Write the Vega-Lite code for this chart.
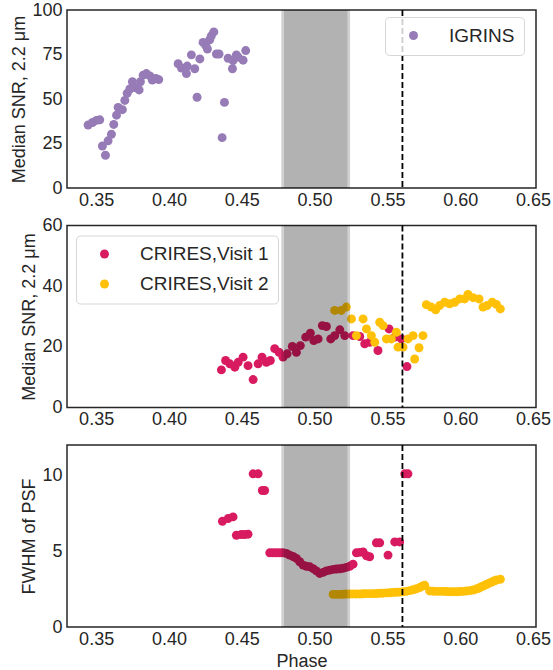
{
  "$schema": "https://vega.github.io/schema/vega-lite/v6.json",
  "background": "white",
  "padding": {"top": 0, "left": 10, "right": 5, "bottom": 0},
  "bounds": "flush",
  "spacing": 37.5,
  "config": {
    "font": "Liberation Sans",
    "view": {"stroke": "#262626", "strokeWidth": 1.5},
    "axis": {"grid": false, "ticks": false, "domain": false, "labelFontSize": 18, "titleFontSize": 18, "labelColor": "#262626", "titleColor": "#262626", "titleFontWeight": "normal", "titlePadding": 3},
    "axisX": {"labelPadding": 3},
    "axisY": {"labelPadding": 5},
    "legend": {"labelFontSize": 19, "labelColor": "#262626", "symbolSize": 80, "symbolType": "circle", "symbolOpacity": 1, "strokeColor": "#d6d6d6", "fillColor": "rgba(255,255,255,0.8)", "cornerRadius": 4, "padding": 9, "symbolOffset": 10, "labelOffset": 26, "rowPadding": 10}
  },
  "datasets": {
    "span": [{"start": 0.479, "end": 0.5225}],
    "ingress": [{"phase": 0.5603}],
    "igrins": [
      {"phase": 0.3445, "snr": 35.4}, {"phase": 0.3475, "snr": 36.8}, {"phase": 0.3502, "snr": 38.0}, {"phase": 0.3525, "snr": 38.3},
      {"phase": 0.3543, "snr": 23.6}, {"phase": 0.3564, "snr": 18.4}, {"phase": 0.3582, "snr": 26.5}, {"phase": 0.3605, "snr": 30.2},
      {"phase": 0.3621, "snr": 35.7}, {"phase": 0.364, "snr": 40.9}, {"phase": 0.3651, "snr": 45.3}, {"phase": 0.368, "snr": 44.0},
      {"phase": 0.3697, "snr": 49.2}, {"phase": 0.3713, "snr": 53.2}, {"phase": 0.3731, "snr": 55.6}, {"phase": 0.3749, "snr": 59.7},
      {"phase": 0.3766, "snr": 56.4}, {"phase": 0.3795, "snr": 55.1}, {"phase": 0.3804, "snr": 59.7}, {"phase": 0.3823, "snr": 63.4},
      {"phase": 0.3845, "snr": 64.3}, {"phase": 0.3869, "snr": 63.0}, {"phase": 0.3886, "snr": 60.6}, {"phase": 0.391, "snr": 61.5},
      {"phase": 0.393, "snr": 60.9}, {"phase": 0.4063, "snr": 69.8}, {"phase": 0.4086, "snr": 67.4}, {"phase": 0.412, "snr": 64.3},
      {"phase": 0.4125, "snr": 68.5}, {"phase": 0.4154, "snr": 74.8}, {"phase": 0.4177, "snr": 67.0}, {"phase": 0.4193, "snr": 51.0},
      {"phase": 0.4212, "snr": 72.5}, {"phase": 0.4234, "snr": 81.8}, {"phase": 0.4253, "snr": 80.0}, {"phase": 0.4264, "snr": 78.1},
      {"phase": 0.428, "snr": 83.3}, {"phase": 0.4291, "snr": 85.5}, {"phase": 0.4308, "snr": 87.7}, {"phase": 0.4326, "snr": 75.3},
      {"phase": 0.4344, "snr": 75.3}, {"phase": 0.4365, "snr": 28.3}, {"phase": 0.4381, "snr": 48.1}, {"phase": 0.4406, "snr": 72.9},
      {"phase": 0.4436, "snr": 67.0}, {"phase": 0.444, "snr": 71.6}, {"phase": 0.4463, "snr": 74.8}, {"phase": 0.4475, "snr": 73.5},
      {"phase": 0.4509, "snr": 71.8}, {"phase": 0.4527, "snr": 77.2}
    ],
    "crires_snr": [
      {"visit": "CRIRES,Visit 1", "phase": 0.436, "snr": 12.4}, {"visit": "CRIRES,Visit 1", "phase": 0.4389, "snr": 15.5},
      {"visit": "CRIRES,Visit 1", "phase": 0.4418, "snr": 14.4}, {"visit": "CRIRES,Visit 1", "phase": 0.4452, "snr": 13.3},
      {"visit": "CRIRES,Visit 1", "phase": 0.4475, "snr": 14.9}, {"visit": "CRIRES,Visit 1", "phase": 0.4509, "snr": 16.6},
      {"visit": "CRIRES,Visit 1", "phase": 0.4543, "snr": 13.8}, {"visit": "CRIRES,Visit 1", "phase": 0.4578, "snr": 9.2},
      {"visit": "CRIRES,Visit 1", "phase": 0.4612, "snr": 14.4}, {"visit": "CRIRES,Visit 1", "phase": 0.4639, "snr": 16.6},
      {"visit": "CRIRES,Visit 1", "phase": 0.4669, "snr": 14.9}, {"visit": "CRIRES,Visit 1", "phase": 0.4696, "snr": 15.5},
      {"visit": "CRIRES,Visit 1", "phase": 0.4726, "snr": 19.4}, {"visit": "CRIRES,Visit 1", "phase": 0.4756, "snr": 18.2},
      {"visit": "CRIRES,Visit 1", "phase": 0.4783, "snr": 16.6}, {"visit": "CRIRES,Visit 1", "phase": 0.4811, "snr": 17.7},
      {"visit": "CRIRES,Visit 1", "phase": 0.4847, "snr": 20.1}, {"visit": "CRIRES,Visit 1", "phase": 0.4875, "snr": 18.2},
      {"visit": "CRIRES,Visit 1", "phase": 0.4902, "snr": 20.4}, {"visit": "CRIRES,Visit 1", "phase": 0.4939, "snr": 23.2},
      {"visit": "CRIRES,Visit 1", "phase": 0.4971, "snr": 24.5}, {"visit": "CRIRES,Visit 1", "phase": 0.4994, "snr": 22.1},
      {"visit": "CRIRES,Visit 1", "phase": 0.5024, "snr": 22.6}, {"visit": "CRIRES,Visit 1", "phase": 0.5053, "snr": 27.0},
      {"visit": "CRIRES,Visit 1", "phase": 0.5081, "snr": 26.7}, {"visit": "CRIRES,Visit 1", "phase": 0.5111, "snr": 22.6},
      {"visit": "CRIRES,Visit 1", "phase": 0.5138, "snr": 23.7}, {"visit": "CRIRES,Visit 1", "phase": 0.5173, "snr": 25.6},
      {"visit": "CRIRES,Visit 1", "phase": 0.5207, "snr": 23.7}, {"visit": "CRIRES,Visit 1", "phase": 0.5264, "snr": 23.7},
      {"visit": "CRIRES,Visit 1", "phase": 0.531, "snr": 23.4}, {"visit": "CRIRES,Visit 1", "phase": 0.5344, "snr": 21.0},
      {"visit": "CRIRES,Visit 1", "phase": 0.5378, "snr": 21.5}, {"visit": "CRIRES,Visit 1", "phase": 0.5435, "snr": 18.8},
      {"visit": "CRIRES,Visit 1", "phase": 0.5511, "snr": 25.9}, {"visit": "CRIRES,Visit 1", "phase": 0.555, "snr": 23.2},
      {"visit": "CRIRES,Visit 1", "phase": 0.5596, "snr": 22.6}, {"visit": "CRIRES,Visit 1", "phase": 0.5634, "snr": 13.5},
      {"visit": "CRIRES,Visit 2", "phase": 0.5138, "snr": 32.0}, {"visit": "CRIRES,Visit 2", "phase": 0.5183, "snr": 32.0},
      {"visit": "CRIRES,Visit 2", "phase": 0.5218, "snr": 33.1}, {"visit": "CRIRES,Visit 2", "phase": 0.5253, "snr": 29.2},
      {"visit": "CRIRES,Visit 2", "phase": 0.5287, "snr": 23.7}, {"visit": "CRIRES,Visit 2", "phase": 0.5333, "snr": 29.2},
      {"visit": "CRIRES,Visit 2", "phase": 0.5356, "snr": 25.9}, {"visit": "CRIRES,Visit 2", "phase": 0.539, "snr": 23.7},
      {"visit": "CRIRES,Visit 2", "phase": 0.5413, "snr": 21.5}, {"visit": "CRIRES,Visit 2", "phase": 0.5447, "snr": 28.1},
      {"visit": "CRIRES,Visit 2", "phase": 0.547, "snr": 27.0}, {"visit": "CRIRES,Visit 2", "phase": 0.5493, "snr": 22.6},
      {"visit": "CRIRES,Visit 2", "phase": 0.5527, "snr": 22.6}, {"visit": "CRIRES,Visit 2", "phase": 0.5561, "snr": 24.8},
      {"visit": "CRIRES,Visit 2", "phase": 0.5573, "snr": 19.9}, {"visit": "CRIRES,Visit 2", "phase": 0.5607, "snr": 19.9},
      {"visit": "CRIRES,Visit 2", "phase": 0.5641, "snr": 22.6}, {"visit": "CRIRES,Visit 2", "phase": 0.5676, "snr": 23.7},
      {"visit": "CRIRES,Visit 2", "phase": 0.5687, "snr": 16.0}, {"visit": "CRIRES,Visit 2", "phase": 0.5717, "snr": 19.7},
      {"visit": "CRIRES,Visit 2", "phase": 0.5744, "snr": 23.7}, {"visit": "CRIRES,Visit 2", "phase": 0.5767, "snr": 33.9},
      {"visit": "CRIRES,Visit 2", "phase": 0.5801, "snr": 33.1}, {"visit": "CRIRES,Visit 2", "phase": 0.5831, "snr": 32.2},
      {"visit": "CRIRES,Visit 2", "phase": 0.5858, "snr": 33.6}, {"visit": "CRIRES,Visit 2", "phase": 0.5893, "snr": 34.7},
      {"visit": "CRIRES,Visit 2", "phase": 0.5927, "snr": 34.2}, {"visit": "CRIRES,Visit 2", "phase": 0.5962, "snr": 34.7},
      {"visit": "CRIRES,Visit 2", "phase": 0.5996, "snr": 35.8}, {"visit": "CRIRES,Visit 2", "phase": 0.603, "snr": 35.8},
      {"visit": "CRIRES,Visit 2", "phase": 0.6053, "snr": 37.3}, {"visit": "CRIRES,Visit 2", "phase": 0.6088, "snr": 36.2},
      {"visit": "CRIRES,Visit 2", "phase": 0.6129, "snr": 35.8}, {"visit": "CRIRES,Visit 2", "phase": 0.6156, "snr": 33.1},
      {"visit": "CRIRES,Visit 2", "phase": 0.6184, "snr": 33.6}, {"visit": "CRIRES,Visit 2", "phase": 0.622, "snr": 34.7},
      {"visit": "CRIRES,Visit 2", "phase": 0.6248, "snr": 34.0}, {"visit": "CRIRES,Visit 2", "phase": 0.6275, "snr": 32.5}
    ],
    "crires_fwhm": [
      {"visit": "CRIRES,Visit 1", "phase": 0.4367, "fwhm": 6.97}, {"visit": "CRIRES,Visit 1", "phase": 0.4406, "fwhm": 7.15},
      {"visit": "CRIRES,Visit 1", "phase": 0.444, "fwhm": 7.26}, {"visit": "CRIRES,Visit 1", "phase": 0.4463, "fwhm": 6.05},
      {"visit": "CRIRES,Visit 1", "phase": 0.4497, "fwhm": 6.1}, {"visit": "CRIRES,Visit 1", "phase": 0.452, "fwhm": 6.1},
      {"visit": "CRIRES,Visit 1", "phase": 0.4543, "fwhm": 6.12}, {"visit": "CRIRES,Visit 1", "phase": 0.4578, "fwhm": 10.1},
      {"visit": "CRIRES,Visit 1", "phase": 0.4612, "fwhm": 10.1}, {"visit": "CRIRES,Visit 1", "phase": 0.4641, "fwhm": 9.0},
      {"visit": "CRIRES,Visit 1", "phase": 0.4657, "fwhm": 9.0}, {"visit": "CRIRES,Visit 1", "phase": 0.4692, "fwhm": 4.89},
      {"visit": "CRIRES,Visit 1", "phase": 0.4715, "fwhm": 4.89}, {"visit": "CRIRES,Visit 1", "phase": 0.4737, "fwhm": 4.89},
      {"visit": "CRIRES,Visit 1", "phase": 0.476, "fwhm": 4.89}, {"visit": "CRIRES,Visit 1", "phase": 0.4783, "fwhm": 4.89},
      {"visit": "CRIRES,Visit 1", "phase": 0.4806, "fwhm": 4.85}, {"visit": "CRIRES,Visit 1", "phase": 0.4829, "fwhm": 4.74},
      {"visit": "CRIRES,Visit 1", "phase": 0.4852, "fwhm": 4.65}, {"visit": "CRIRES,Visit 1", "phase": 0.4875, "fwhm": 4.52},
      {"visit": "CRIRES,Visit 1", "phase": 0.4898, "fwhm": 4.3}, {"visit": "CRIRES,Visit 1", "phase": 0.4921, "fwhm": 4.08},
      {"visit": "CRIRES,Visit 1", "phase": 0.4944, "fwhm": 4.0}, {"visit": "CRIRES,Visit 1", "phase": 0.4967, "fwhm": 3.97},
      {"visit": "CRIRES,Visit 1", "phase": 0.499, "fwhm": 3.85}, {"visit": "CRIRES,Visit 1", "phase": 0.5012, "fwhm": 3.7},
      {"visit": "CRIRES,Visit 1", "phase": 0.5035, "fwhm": 3.53}, {"visit": "CRIRES,Visit 1", "phase": 0.5058, "fwhm": 3.6},
      {"visit": "CRIRES,Visit 1", "phase": 0.5081, "fwhm": 3.7}, {"visit": "CRIRES,Visit 1", "phase": 0.5104, "fwhm": 3.75},
      {"visit": "CRIRES,Visit 1", "phase": 0.5127, "fwhm": 3.8}, {"visit": "CRIRES,Visit 1", "phase": 0.515, "fwhm": 3.82},
      {"visit": "CRIRES,Visit 1", "phase": 0.5173, "fwhm": 3.84}, {"visit": "CRIRES,Visit 1", "phase": 0.5196, "fwhm": 3.88},
      {"visit": "CRIRES,Visit 1", "phase": 0.5218, "fwhm": 3.93}, {"visit": "CRIRES,Visit 1", "phase": 0.5241, "fwhm": 4.0},
      {"visit": "CRIRES,Visit 1", "phase": 0.5264, "fwhm": 4.14}, {"visit": "CRIRES,Visit 1", "phase": 0.5287, "fwhm": 4.89},
      {"visit": "CRIRES,Visit 1", "phase": 0.531, "fwhm": 4.92}, {"visit": "CRIRES,Visit 1", "phase": 0.5333, "fwhm": 4.95},
      {"visit": "CRIRES,Visit 1", "phase": 0.5356, "fwhm": 4.7}, {"visit": "CRIRES,Visit 1", "phase": 0.5378, "fwhm": 4.63},
      {"visit": "CRIRES,Visit 1", "phase": 0.5424, "fwhm": 5.55}, {"visit": "CRIRES,Visit 1", "phase": 0.5447, "fwhm": 5.55},
      {"visit": "CRIRES,Visit 1", "phase": 0.5504, "fwhm": 4.74}, {"visit": "CRIRES,Visit 1", "phase": 0.555, "fwhm": 5.61},
      {"visit": "CRIRES,Visit 1", "phase": 0.5584, "fwhm": 5.61}, {"visit": "CRIRES,Visit 1", "phase": 0.5619, "fwhm": 10.1},
      {"visit": "CRIRES,Visit 1", "phase": 0.5641, "fwhm": 10.1},
      {"visit": "CRIRES,Visit 2", "phase": 0.5127, "fwhm": 2.15}, {"visit": "CRIRES,Visit 2", "phase": 0.515, "fwhm": 2.15},
      {"visit": "CRIRES,Visit 2", "phase": 0.5173, "fwhm": 2.15}, {"visit": "CRIRES,Visit 2", "phase": 0.5196, "fwhm": 2.16},
      {"visit": "CRIRES,Visit 2", "phase": 0.5218, "fwhm": 2.17}, {"visit": "CRIRES,Visit 2", "phase": 0.5241, "fwhm": 2.17},
      {"visit": "CRIRES,Visit 2", "phase": 0.5264, "fwhm": 2.18}, {"visit": "CRIRES,Visit 2", "phase": 0.5287, "fwhm": 2.18},
      {"visit": "CRIRES,Visit 2", "phase": 0.531, "fwhm": 2.18}, {"visit": "CRIRES,Visit 2", "phase": 0.5333, "fwhm": 2.19},
      {"visit": "CRIRES,Visit 2", "phase": 0.5355, "fwhm": 2.2}, {"visit": "CRIRES,Visit 2", "phase": 0.5378, "fwhm": 2.2},
      {"visit": "CRIRES,Visit 2", "phase": 0.5401, "fwhm": 2.2}, {"visit": "CRIRES,Visit 2", "phase": 0.5424, "fwhm": 2.21},
      {"visit": "CRIRES,Visit 2", "phase": 0.5447, "fwhm": 2.22}, {"visit": "CRIRES,Visit 2", "phase": 0.547, "fwhm": 2.23},
      {"visit": "CRIRES,Visit 2", "phase": 0.5493, "fwhm": 2.25}, {"visit": "CRIRES,Visit 2", "phase": 0.5516, "fwhm": 2.26},
      {"visit": "CRIRES,Visit 2", "phase": 0.5538, "fwhm": 2.28}, {"visit": "CRIRES,Visit 2", "phase": 0.5561, "fwhm": 2.29},
      {"visit": "CRIRES,Visit 2", "phase": 0.5584, "fwhm": 2.3}, {"visit": "CRIRES,Visit 2", "phase": 0.5607, "fwhm": 2.32},
      {"visit": "CRIRES,Visit 2", "phase": 0.563, "fwhm": 2.35}, {"visit": "CRIRES,Visit 2", "phase": 0.5653, "fwhm": 2.4},
      {"visit": "CRIRES,Visit 2", "phase": 0.5676, "fwhm": 2.45}, {"visit": "CRIRES,Visit 2", "phase": 0.5699, "fwhm": 2.52},
      {"visit": "CRIRES,Visit 2", "phase": 0.5722, "fwhm": 2.6}, {"visit": "CRIRES,Visit 2", "phase": 0.574, "fwhm": 2.7},
      {"visit": "CRIRES,Visit 2", "phase": 0.5756, "fwhm": 2.75}, {"visit": "CRIRES,Visit 2", "phase": 0.579, "fwhm": 2.38},
      {"visit": "CRIRES,Visit 2", "phase": 0.5813, "fwhm": 2.36}, {"visit": "CRIRES,Visit 2", "phase": 0.5836, "fwhm": 2.35},
      {"visit": "CRIRES,Visit 2", "phase": 0.5859, "fwhm": 2.35}, {"visit": "CRIRES,Visit 2", "phase": 0.5882, "fwhm": 2.35},
      {"visit": "CRIRES,Visit 2", "phase": 0.5905, "fwhm": 2.34}, {"visit": "CRIRES,Visit 2", "phase": 0.5928, "fwhm": 2.33},
      {"visit": "CRIRES,Visit 2", "phase": 0.595, "fwhm": 2.33}, {"visit": "CRIRES,Visit 2", "phase": 0.5973, "fwhm": 2.33},
      {"visit": "CRIRES,Visit 2", "phase": 0.5996, "fwhm": 2.34}, {"visit": "CRIRES,Visit 2", "phase": 0.6019, "fwhm": 2.35},
      {"visit": "CRIRES,Visit 2", "phase": 0.6042, "fwhm": 2.37}, {"visit": "CRIRES,Visit 2", "phase": 0.6065, "fwhm": 2.4},
      {"visit": "CRIRES,Visit 2", "phase": 0.6088, "fwhm": 2.44}, {"visit": "CRIRES,Visit 2", "phase": 0.611, "fwhm": 2.5},
      {"visit": "CRIRES,Visit 2", "phase": 0.6128, "fwhm": 2.57}, {"visit": "CRIRES,Visit 2", "phase": 0.6145, "fwhm": 2.65},
      {"visit": "CRIRES,Visit 2", "phase": 0.6162, "fwhm": 2.72}, {"visit": "CRIRES,Visit 2", "phase": 0.6179, "fwhm": 2.8},
      {"visit": "CRIRES,Visit 2", "phase": 0.6196, "fwhm": 2.88}, {"visit": "CRIRES,Visit 2", "phase": 0.6213, "fwhm": 2.95},
      {"visit": "CRIRES,Visit 2", "phase": 0.623, "fwhm": 3.03}, {"visit": "CRIRES,Visit 2", "phase": 0.6248, "fwhm": 3.1},
      {"visit": "CRIRES,Visit 2", "phase": 0.6275, "fwhm": 3.15}
    ]
  },
  "vconcat": [
    {
      "width": 469,
      "height": 178,
      "layer": [
        {
          "data": {"name": "igrins"},
          "mark": {"type": "circle", "size": 80, "opacity": 1},
          "encoding": {
            "x": {"field": "phase", "type": "quantitative", "scale": {"domain": [0.33, 0.652], "nice": false, "zero": false}, "axis": {"values": [0.35, 0.4, 0.45, 0.5, 0.55, 0.6, 0.65], "format": ".2f", "title": null}},
            "y": {"field": "snr", "type": "quantitative", "scale": {"domain": [0, 100], "nice": false}, "axis": {"values": [0, 25, 50, 75, 100], "title": "Median SNR, 2.2 μm"}},
            "color": {"datum": "IGRINS", "type": "nominal", "scale": {"domain": ["IGRINS"], "range": ["#967bb6"]}, "legend": {"title": null, "orient": "none", "legendX": 318, "legendY": 7}}
          }
        },
        {"data": {"name": "span"}, "mark": {"type": "rect", "color": "black", "opacity": 0.18, "xOffset": -2.7, "x2Offset": 2.7}, "encoding": {"x": {"field": "start", "type": "quantitative"}, "x2": {"field": "end"}}},
        {"data": {"name": "span"}, "mark": {"type": "rect", "color": "black", "opacity": 0.146}, "encoding": {"x": {"field": "start", "type": "quantitative"}, "x2": {"field": "end"}}},
        {"data": {"name": "ingress"}, "mark": {"type": "rule", "color": "black", "strokeDash": [6, 3], "strokeWidth": 1.8}, "encoding": {"x": {"field": "phase", "type": "quantitative"}}}
      ]
    },
    {
      "width": 469,
      "height": 182,
      "layer": [
        {
          "data": {"name": "crires_snr"},
          "mark": {"type": "circle", "size": 80, "opacity": 1},
          "encoding": {
            "x": {"field": "phase", "type": "quantitative", "scale": {"domain": [0.33, 0.652], "nice": false, "zero": false}, "axis": {"values": [0.35, 0.4, 0.45, 0.5, 0.55, 0.6, 0.65], "format": ".2f", "title": null}},
            "y": {"field": "snr", "type": "quantitative", "scale": {"domain": [0, 60], "nice": false}, "axis": {"values": [0, 20, 40, 60], "title": "Median SNR, 2.2 μm"}},
            "color": {"field": "visit", "type": "nominal", "scale": {"domain": ["CRIRES,Visit 1", "CRIRES,Visit 2"], "range": ["#d81b60", "#ffc107"]}, "legend": {"title": null, "orient": "none", "legendX": 9, "legendY": 10}}
          }
        },
        {"data": {"name": "span"}, "mark": {"type": "rect", "color": "black", "opacity": 0.18, "xOffset": -2.7, "x2Offset": 2.7}, "encoding": {"x": {"field": "start", "type": "quantitative"}, "x2": {"field": "end"}}},
        {"data": {"name": "span"}, "mark": {"type": "rect", "color": "black", "opacity": 0.146}, "encoding": {"x": {"field": "start", "type": "quantitative"}, "x2": {"field": "end"}}},
        {"data": {"name": "ingress"}, "mark": {"type": "rule", "color": "black", "strokeDash": [6, 3], "strokeWidth": 1.8}, "encoding": {"x": {"field": "phase", "type": "quantitative"}}}
      ]
    },
    {
      "width": 469,
      "height": 182,
      "layer": [
        {
          "data": {"name": "crires_fwhm"},
          "mark": {"type": "circle", "size": 80, "opacity": 1},
          "encoding": {
            "x": {"field": "phase", "type": "quantitative", "scale": {"domain": [0.33, 0.652], "nice": false, "zero": false}, "axis": {"values": [0.35, 0.4, 0.45, 0.5, 0.55, 0.6, 0.65], "format": ".2f", "title": "Phase", "titlePadding": 4}},
            "y": {"field": "fwhm", "type": "quantitative", "scale": {"domain": [0, 12], "nice": false}, "axis": {"values": [0, 5, 10], "title": "FWHM of PSF"}},
            "color": {"field": "visit", "type": "nominal", "scale": {"domain": ["CRIRES,Visit 1", "CRIRES,Visit 2"], "range": ["#d81b60", "#ffc107"]}, "legend": null}
          }
        },
        {"data": {"name": "span"}, "mark": {"type": "rect", "color": "black", "opacity": 0.18, "xOffset": -2.7, "x2Offset": 2.7}, "encoding": {"x": {"field": "start", "type": "quantitative"}, "x2": {"field": "end"}}},
        {"data": {"name": "span"}, "mark": {"type": "rect", "color": "black", "opacity": 0.146}, "encoding": {"x": {"field": "start", "type": "quantitative"}, "x2": {"field": "end"}}},
        {"data": {"name": "ingress"}, "mark": {"type": "rule", "color": "black", "strokeDash": [6, 3], "strokeWidth": 1.8}, "encoding": {"x": {"field": "phase", "type": "quantitative"}}}
      ]
    }
  ],
  "resolve": {"scale": {"color": "independent"}, "legend": {"color": "independent"}}
}
